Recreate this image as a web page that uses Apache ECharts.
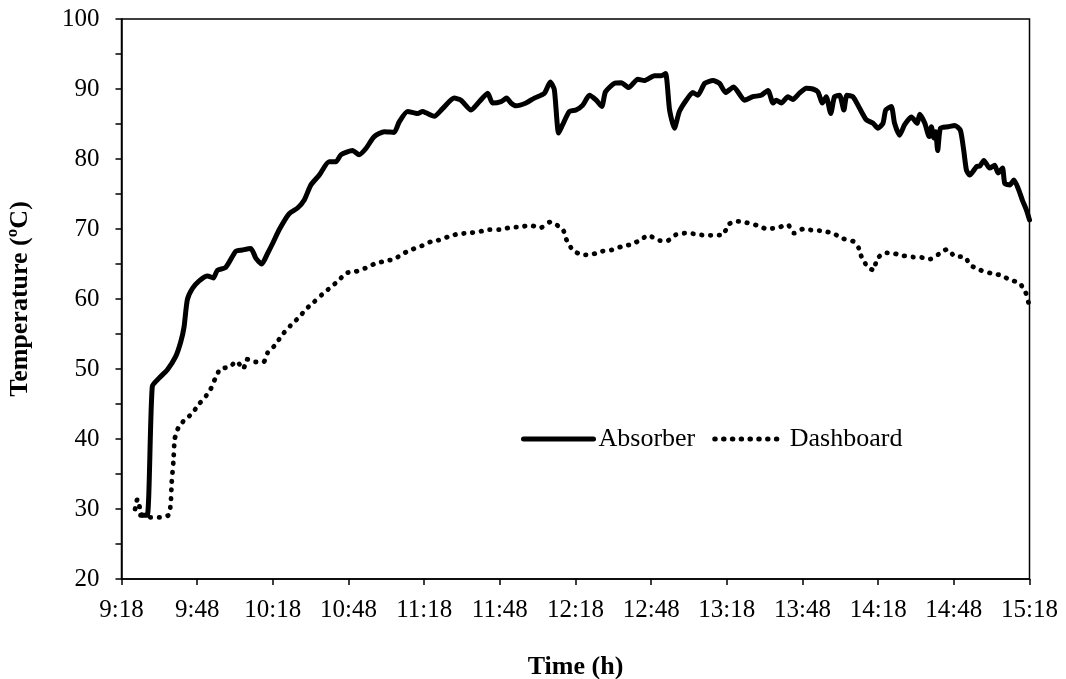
<!DOCTYPE html>
<html>
<head>
<meta charset="utf-8">
<script src="https://cdn.jsdelivr.net/npm/echarts@6/dist/echarts.min.js"></script>
<style>
  html, body { margin: 0; padding: 0; background: #fff; }
  #chart { width: 1066px; height: 679px; }
</style>
</head>
<body>
<div id="chart"></div>
<script>
// Time in minutes after 9:18
const xTickLabels = ['9:18','9:48','10:18','10:48','11:18','11:48','12:18','12:48','13:18','13:48','14:18','14:48','15:18'];
const yTickValues = [20, 30, 40, 50, 60, 70, 80, 90, 100];

const absorberTime = [7.6,10.2,12.2,14.9,18.2,21.5,23.5,24.8,26.1,28.1,30.8,34.1,36.4,38.0,41.3,45.3,47.9,51.3,53.3,55.6,57.9,60.0,62.5,66.5,69.8,72.4,75.1,78.4,82.3,85.0,87.0,91.6,94.2,96.9,100.2,104.2,108.1,110.1,113.4,117.4,119.4,120.7,124.0,127.3,131.9,134.6,138.6,141.9,145.2,147.1,150.5,152.7,154.4,156.4,160.4,163.7,167.7,170.0,171.6,173.3,174.9,177.6,180.2,182.9,185.5,188.2,190.4,191.9,195.4,198.1,201.1,204.7,207.3,211.3,214.0,215.7,217.3,219.2,221.2,223.9,226.5,228.5,231.2,234.5,237.1,239.5,242.7,247.0,250.3,253.6,256.3,258.3,259.6,261.6,264.2,266.2,268.8,271.5,274.1,276.1,277.9,279.4,281.2,282.7,284.7,286.4,287.6,290.0,292.7,295.3,298.0,299.9,301.9,303.0,305.2,306.5,308.5,310.5,313.2,315.4,316.5,318.5,320.2,321.1,322.1,322.8,323.6,324.7,327.7,330.4,332.6,333.9,335.0,336.3,339.0,340.3,341.9,344.2,346.2,347.5,349.3,350.2,352.2,353.8,355.5,357.2,358.8,360.0];
const absorberTemp = [29.1,29.1,47.5,48.7,49.9,51.8,53.9,56.0,59.9,61.5,62.6,63.3,63.0,64.1,64.5,66.8,67.0,67.2,65.8,65.0,66.5,68.0,69.9,72.2,73.0,74.1,76.3,77.7,79.6,79.6,80.6,81.2,80.6,81.5,83.2,83.9,83.8,85.3,86.8,86.5,86.8,86.6,86.1,87.2,88.7,88.4,87.0,88.2,89.4,88.0,88.2,88.7,88.0,87.6,88.0,88.7,89.4,91.0,89.9,83.7,84.9,86.8,87.0,87.7,89.1,88.4,87.5,89.6,90.8,90.9,90.2,91.4,91.2,91.9,91.9,92.2,87.0,84.4,86.8,88.4,89.5,89.1,90.8,91.2,90.8,89.5,90.3,88.4,88.9,89.1,89.8,88.0,88.4,88.0,88.9,88.5,89.4,90.1,90.0,89.6,88.0,88.9,86.5,88.9,89.1,87.0,89.1,88.9,87.2,85.6,85.1,84.4,85.1,87.0,87.5,85.1,83.4,84.9,86.0,85.1,86.4,85.1,83.2,84.6,83.0,83.9,81.2,84.4,84.6,84.8,84.1,81.3,78.4,77.7,78.9,79.0,79.8,78.7,79.1,78.0,78.7,76.5,76.3,77.0,75.8,74.1,72.7,71.3];

const dashboardTime = [5.4,6.3,6.9,8.0,11.6,15.2,18.6,19.5,19.9,20.6,21.1,22.4,24.9,27.9,30.5,33.0,35.3,37.1,39.2,42.9,45.6,48.3,49.7,53.0,56.3,57.9,60.6,64.0,67.0,70.4,73.3,76.4,79.4,82.7,86.0,89.0,92.7,96.6,100.2,104.2,108.1,111.7,115.4,119.1,122.7,125.6,129.6,133.5,137.6,141.6,145.8,149.8,153.9,158.1,162.1,166.3,170.0,173.3,175.3,176.7,179.2,182.9,186.8,190.4,194.2,198.3,202.1,205.6,208.9,212.6,216.3,219.9,223.5,227.2,231.2,234.8,238.7,240.4,243.9,247.9,252.1,256.0,260.2,264.2,266.6,270.2,274.4,278.5,282.5,286.3,290.3,292.4,293.6,296.1,298.2,299.5,302.6,306.3,309.8,313.8,318.2,320.6,324.0,327.3,330.4,334.3,336.7,340.7,344.5,348.5,352.5,355.9,358.3,359.6];
const dashboardTemp = [30.0,31.4,30.8,29.2,28.8,28.8,29.1,30.7,33.8,36.9,40.0,41.5,42.7,43.6,44.9,45.9,47.1,48.6,50.0,50.3,51.1,50.0,51.4,51.0,51.0,52.3,53.3,55.0,56.2,57.4,58.6,59.6,60.6,61.6,62.6,63.7,63.9,64.4,65.0,65.4,65.7,66.5,67.1,67.6,68.2,68.4,68.9,69.3,69.4,69.6,69.9,69.9,70.2,70.3,70.5,70.2,71.0,70.4,69.7,68.2,66.9,66.3,66.4,66.8,67.0,67.5,67.8,68.4,69.1,68.4,68.3,69.2,69.4,69.3,69.1,69.1,69.2,70.6,71.1,70.9,70.5,70.0,70.2,70.6,69.4,70.0,69.8,69.7,69.3,68.6,68.2,67.2,65.8,64.5,64.1,65.7,66.6,66.5,66.2,66.0,65.9,65.7,66.4,67.1,66.1,66.0,64.8,64.1,63.7,63.4,62.7,62.3,61.1,59.5];

const seriesNames = ['Absorber', 'Dashboard'];

const FONT = '"Liberation Serif", "Times New Roman", serif';

function pairs(xs, ys) { return xs.map((x, i) => [x, ys[i]]); }

const chart = echarts.init(document.getElementById('chart'), null, { renderer: 'canvas' });
chart.setOption({
  animation: false,
  backgroundColor: '#ffffff',
  textStyle: { fontFamily: FONT, color: '#000' },
  grid: {
    left: 121.5, right: 36.5, top: 19, bottom: 100,
    containLabel: false, outerBoundsMode: 'none',
    show: true, borderColor: '#000', borderWidth: 1.5, backgroundColor: 'transparent'
  },
  legend: {
    left: 521, top: 426, padding: 0,
    itemWidth: 70, itemHeight: 14, itemGap: 17,
    itemStyle: { opacity: 0 },
    lineStyle: { width: 5 },
    textStyle: { fontFamily: FONT, fontSize: 26, color: '#000' },
    data: seriesNames
  },
  xAxis: {
    type: 'value', min: 0, max: 360, interval: 30,
    name: 'Time (h)', nameLocation: 'middle', nameGap: 75,
    nameTextStyle: { fontFamily: FONT, fontSize: 26, fontWeight: 'bold', color: '#000' },
    axisLine: { show: true, onZero: false, lineStyle: { color: '#000', width: 1.5 } },
    axisTick: { show: true, inside: false, length: 6, lineStyle: { color: '#000', width: 1.5 } },
    axisLabel: {
      margin: 19, fontFamily: FONT, fontSize: 25, color: '#000',
      formatter: v => xTickLabels[Math.round(v / 30)] || ''
    },
    splitLine: { show: false }
  },
  yAxis: {
    type: 'value', min: yTickValues[0], max: yTickValues[yTickValues.length - 1], interval: 10,
    name: 'Temperature (ºC)', nameLocation: 'middle', nameGap: 88,
    nameTextStyle: { fontFamily: FONT, fontSize: 26, fontWeight: 'bold', color: '#000' },
    axisLine: { show: true, onZero: false, lineStyle: { color: '#000', width: 1.5 } },
    axisTick: { show: true, inside: false, length: 6, lineStyle: { color: '#000', width: 1.5 } },
    minorTick: { show: true, splitNumber: 2, length: 6, lineStyle: { color: '#000', width: 1.5 } },
    axisLabel: { margin: 22, fontFamily: FONT, fontSize: 25, color: '#000' },
    splitLine: { show: false },
    minorSplitLine: { show: false }
  },
  series: [
    {
      name: seriesNames[0], type: 'line', symbol: 'none', smooth: 0.2,
      data: pairs(absorberTime, absorberTemp),
      lineStyle: { color: '#000', width: 5, cap: 'round', join: 'round' },
      itemStyle: { color: '#000' }
    },
    {
      name: seriesNames[1], type: 'line', symbol: 'none', smooth: 0.2,
      data: pairs(dashboardTime, dashboardTemp),
      lineStyle: { color: '#000', width: 4.8, type: [0.5, 8.3], cap: 'round', join: 'round' },
      itemStyle: { color: '#000' }
    }
  ]
});
</script>
</body>
</html>
